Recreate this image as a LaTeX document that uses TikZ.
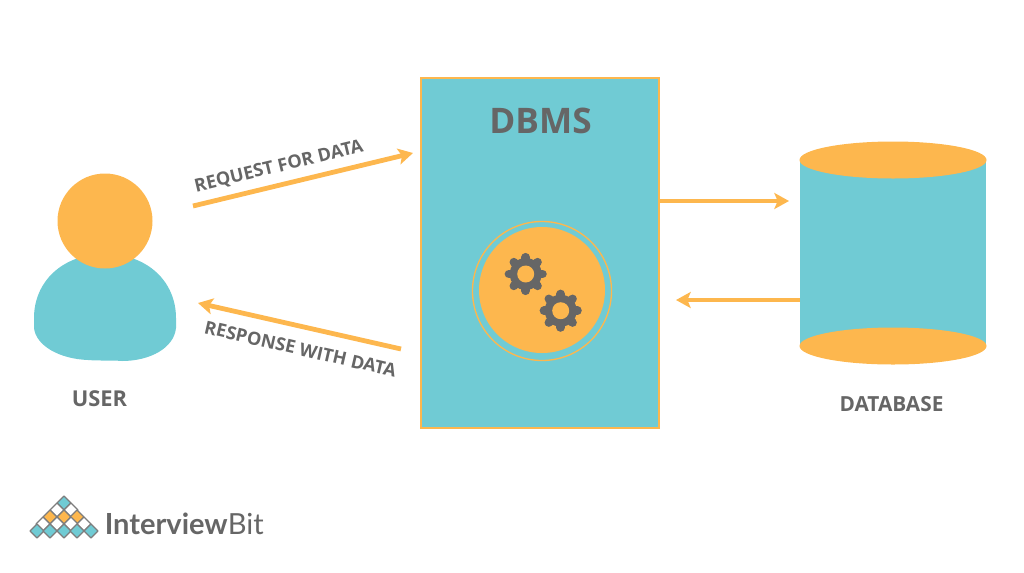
\documentclass[tikz,border=0pt]{standalone}
\usepackage{fontspec}
\setmainfont{Open Sans}
\newfontfamily\logofont{Lato}
\usepackage{xcolor}
\usetikzlibrary{arrows.meta}
\definecolor{tealc}{HTML}{70CBD4}
\definecolor{orangec}{HTML}{FDB74E}
\definecolor{greyc}{HTML}{666666}
\newcommand{\gearat}[2]{%
  \fill[greyc] (#1,#2) circle (16);
  \foreach \a in {0,45,...,315}
    \draw[greyc, line width=6.4pt, line cap=round] (#1,#2) -- ++(\a:16.8);
  \fill[orangec] (#1,#2) circle (8.5);
}
\tikzset{
  flow/.style    ={-{Stealth[length=11pt, width=12pt, inset=2.5pt]}, line width=3.6pt, orangec},
  lbl/.style     ={font=\bfseries\fontsize{13.6}{15}\selectfont, text=greyc, inner sep=0pt},
  capl/.style    ={font=\bfseries\fontsize{15.6}{17}\selectfont, text=greyc, inner sep=0pt},
  cell/.style    ={draw=greyc!85, line width=0.9pt, line join=round},
}

\begin{document}
\begin{tikzpicture}[x=0.75pt, y=-0.75pt]
  \useasboundingbox (0,0) rectangle (1024,572);

  % user
  \fill[tealc] (34,328) -- (34,318) .. controls (34,282) and (62,254) .. (105,254)
    .. controls (148,254) and (176,282) .. (176,318) -- (176,328)
    .. controls (174,348) and (150,361) .. (122,361)
    .. controls (110,360) and (100,361) .. (88,360)
    .. controls (60,359) and (36,346) .. (34,328) -- cycle;
  \fill[orangec] (105,221) circle (47.5);
  \node[capl, font=\bfseries\fontsize{16.4}{18}\selectfont] (usr) at (99.5,399) {USER};

  % dbms
  \node[draw=orangec, fill=tealc, line width=1.1pt, minimum width=178.5pt, minimum height=262.5pt, inner sep=0pt] (dbms) at (540,253) {};
  \node[font=\bfseries\fontsize{26.4}{30}\selectfont, text=greyc, inner sep=0pt] (title) at (540.5,121) {DBMS};
  \draw[orangec, line width=1pt] (542,291) circle (69.5);
  \fill[orangec] (542,290) circle (63);
  \gearat{525.7}{274}
  \gearat{560.7}{310.7}

  % database
  \fill[tealc] (800,160) rectangle (986,346);
  \fill[orangec] (893,160) ellipse (93.5 and 18.5);
  \fill[orangec] (893,346) ellipse (93.5 and 18.5);
  \node[capl] (dbl) at (891.5,404) {DATABASE};

  % arrows
  \coordinate (reqs) at (193,206);  \coordinate (reqe) at (413,153);
  \coordinate (ress) at (401,349);  \coordinate (rese) at (198,303);
  \coordinate (outs) at (659,201);  \coordinate (oute) at (789,201);
  \coordinate (bcks) at (800,300);  \coordinate (bcke) at (676,300);
  \draw[flow] (reqs)--(reqe); \draw[flow] (ress)--(rese);
  \draw[flow] (outs)--(oute); \draw[flow] (bcks)--(bcke);
  \node[lbl, rotate=13.5] (reql) at (279,167) {REQUEST FOR DATA};
  \node[lbl, rotate=-13] (resl) at (300.5,349) {RESPONSE WITH DATA};

  % logo
  \foreach \x/\y/\c in {64/503/tealc,
      57/510/white, 71/510/white,
      50/517/orangec, 64/517/orangec, 77/517/orangec,
      43/524/white, 57/524/white, 71/524/white, 84/524/white,
      37/531/tealc, 50/531/tealc, 64/531/tealc, 77/531/tealc, 91/531/tealc}
    \draw[cell, fill=\c] (\x,\y-7) -- (\x+7,\y) -- (\x,\y+7) -- (\x-7,\y) -- cycle;
  \node[font=\logofont\fontsize{21.8}{24}\selectfont, text=greyc, inner sep=0pt, anchor=west] (logo) at (104.5,524) {\textbf{Interview}Bit};
\end{tikzpicture}
\end{document}
